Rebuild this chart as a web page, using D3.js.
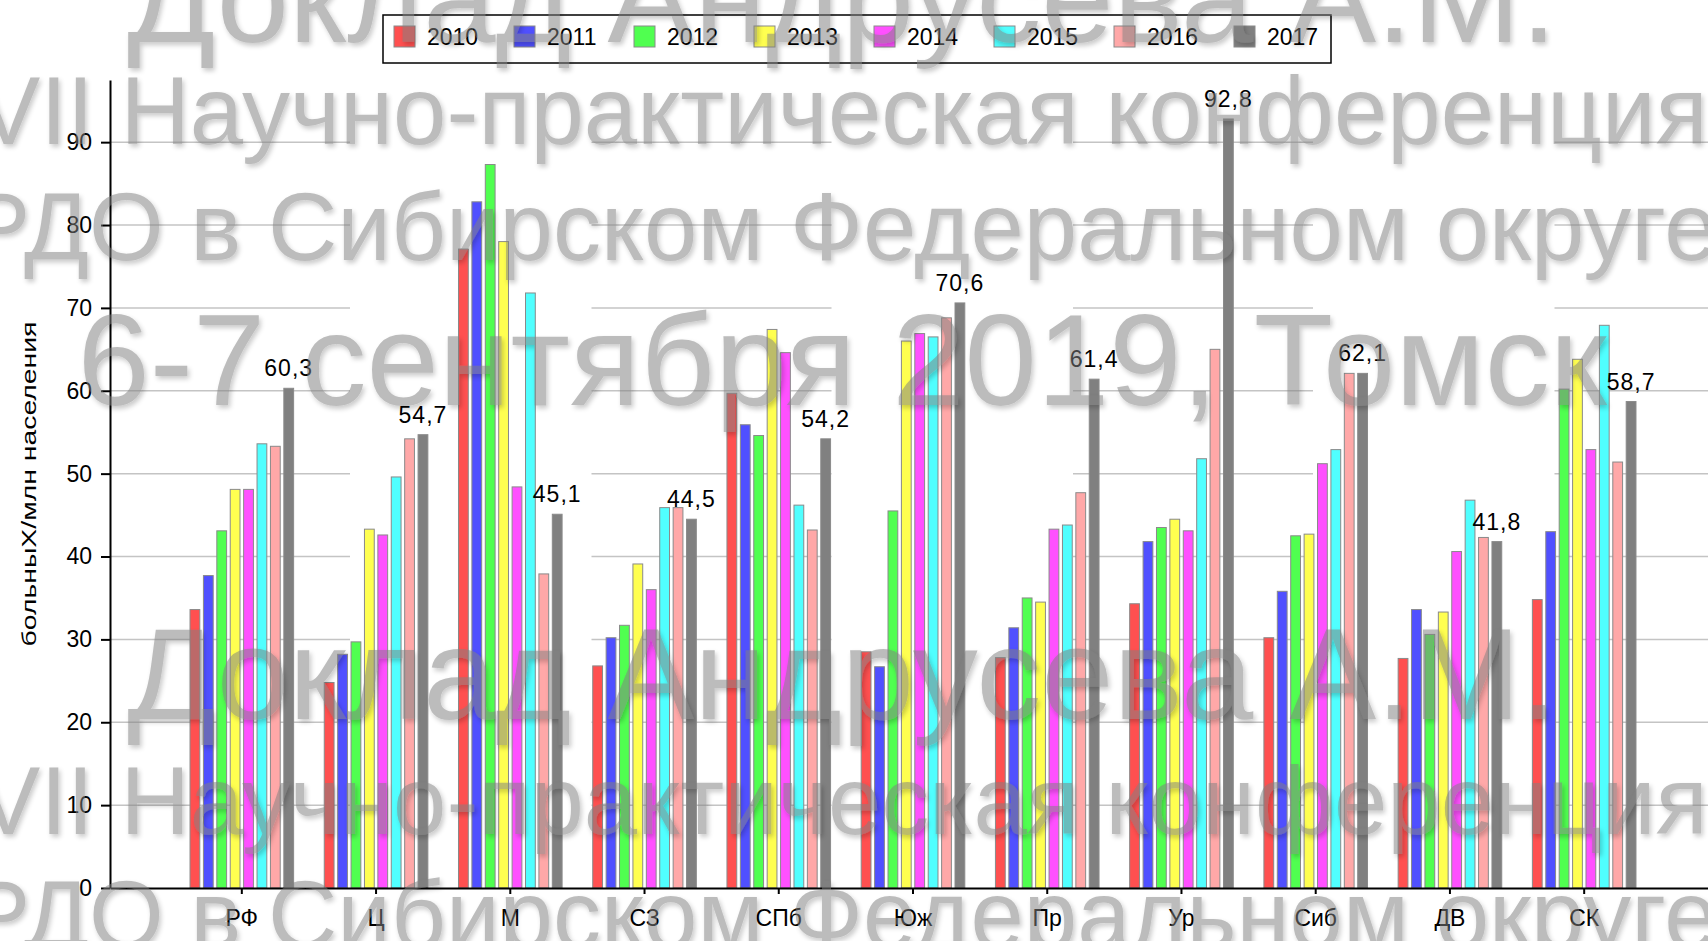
<!DOCTYPE html>
<html>
<head>
<meta charset="utf-8">
<script src="https://cdn.jsdelivr.net/npm/d3@7"></script>
<style>
  body { margin: 0; background: #fff; }
  text { font-family: "Liberation Sans", Arial, sans-serif; }
</style>
</head>
<body>
<svg id="chart" width="1708" height="941"></svg>
<script>
// regions of RF (federal districts)
const regions = ["РФ", "Ц", "М", "СЗ", "СПб", "Юж", "Пр", "Ур", "Сиб", "ДВ", "СК"];
const years = ["2010", "2011", "2012", "2013", "2014", "2015", "2016", "2017"];

const v2010 = [33.6, 24.8, 77.1, 26.8, 59.7, 28.5, 27.8, 34.3, 30.2, 27.7, 34.8];
const v2011 = [37.7, 28.2, 82.8, 30.2, 55.9, 26.7, 31.4, 41.8, 35.8, 33.6, 43.0];
const v2012 = [43.1, 29.7, 87.3, 31.7, 54.6, 45.5, 35.0, 43.5, 42.5, 30.6, 60.2];
const v2013 = [48.1, 43.3, 78.0, 39.1, 67.4, 66.0, 34.5, 44.5, 42.7, 33.3, 63.8];
const v2014 = [48.1, 42.6, 48.4, 36.0, 64.6, 66.9, 43.3, 43.1, 51.2, 40.6, 52.9];
const v2015 = [53.6, 49.6, 71.8, 45.9, 46.2, 66.5, 43.8, 51.8, 52.9, 46.8, 67.9];
const v2016 = [53.3, 54.2, 37.9, 45.9, 43.2, 68.8, 47.7, 65.0, 62.1, 42.3, 51.4];
const v2017 = [60.3, 54.7, 45.1, 44.5, 54.2, 70.6, 61.4, 92.8, 62.1, 41.8, 58.7];

const yTicks = [0, 10, 20, 30, 40, 50, 60, 70, 80, 90];
const colors = ["#ff5050", "#5050ff", "#50ff50", "#ffff50", "#ff50ff", "#50ffff", "#ffa8a8", "#808080"];

const series = [v2010, v2011, v2012, v2013, v2014, v2015, v2016, v2017];
const rows = regions.map((r, i) => ({ region: r, values: years.map((yr, k) => ({ year: yr, value: series[k][i] })) }));

const width = 1708, height = 941;
const svg = d3.select("#chart");

const x0 = d3.scaleBand().domain(regions).range([110, 1716]).paddingInner(0).paddingOuter(0.482);
const groupW = 103.6;
const x1 = d3.scaleBand().domain(years).range([0, groupW]).paddingInner(0.27);
const y = d3.scaleLinear().domain([0, 97.5]).range([888, 80]);
const color = d3.scaleOrdinal().domain(years).range(colors);

// grid lines, only visible in alternate stripes like the source picture
const stripe = 240, period = 481.5;
const grid = svg.append("g").attr("stroke", "#c4c4c4").attr("stroke-width", 1.5);
yTicks.slice(1).forEach(t => {
  for (let k = 0; k < 4; k++) {
    const xs = 110 + k * period;
    grid.append("line")
      .attr("x1", xs).attr("x2", Math.min(xs + stripe, width))
      .attr("y1", y(t)).attr("y2", y(t));
  }
});

// bars
const groups = svg.append("g").selectAll("g")
  .data(rows)
  .enter().append("g")
  .attr("transform", d => "translate(" + (x0(d.region) + (x0.bandwidth() - groupW) / 2) + ",0)");

groups.selectAll("rect")
  .data(d => d.values)
  .enter().append("rect")
  .attr("x", d => x1(d.year))
  .attr("y", d => y(d.value))
  .attr("width", x1.bandwidth())
  .attr("height", d => y(0) - y(d.value))
  .attr("fill", d => color(d.year))
  .attr("stroke", "#8a8a8a")
  .attr("stroke-width", 1);

// value labels above 2017 bars
groups.append("text")
  .attr("x", x1("2017") + x1.bandwidth() / 2)
  .attr("y", d => y(d.values[7].value) - 12)
  .attr("text-anchor", "middle")
  .attr("font-size", 23)
  .attr("letter-spacing", 1)
  .attr("fill", "#000")
  .text(d => d3.format(".1f")(d.values[7].value).replace(".", ","));

// axes
const yAxis = svg.append("g")
  .attr("transform", "translate(110,0)")
  .call(d3.axisLeft(y).tickValues(yTicks).tickSize(9).tickSizeOuter(0).tickPadding(9));
yAxis.selectAll("text").attr("font-size", 23).attr("fill", "#000");
yAxis.selectAll("line, path").attr("stroke", "#000").attr("stroke-width", 2);
yAxis.attr("font-family", null);

const xAxis = svg.append("g")
  .attr("transform", "translate(0," + y(0) + ")")
  .call(d3.axisBottom(x0).tickSize(6).tickSizeOuter(0).tickPadding(16));
xAxis.selectAll("text").attr("font-size", 23).attr("fill", "#000");
xAxis.selectAll("line, path").attr("stroke", "#000").attr("stroke-width", 2);
xAxis.attr("font-family", null);

svg.append("text")
  .attr("transform", "translate(36,484) rotate(-90)")
  .attr("text-anchor", "middle")
  .attr("font-size", 21)
  .attr("textLength", 325)
  .attr("lengthAdjust", "spacingAndGlyphs")
  .attr("fill", "#000")
  .text("больныХ/млн населения");

// legend
const legend = svg.append("g");
legend.append("rect")
  .attr("x", 383).attr("y", 15).attr("width", 948).attr("height", 48)
  .attr("fill", "#fff").attr("stroke", "#000").attr("stroke-width", 1.5);
const item = legend.selectAll("g.item")
  .data(years)
  .enter().append("g")
  .attr("class", "item")
  .attr("transform", (d, i) => "translate(" + (394 + i * 120) + ",26)");
item.append("rect")
  .attr("width", 21).attr("height", 21)
  .attr("fill", d => color(d))
  .attr("stroke", "#8a8a8a");
item.append("text")
  .attr("x", 33).attr("y", 19)
  .attr("font-size", 23)
  .attr("fill", "#000")
  .text(d => d);

// watermark on top
const defs = svg.append("defs");
const f = defs.append("filter").attr("id", "wm")
  .attr("x", "-5%").attr("y", "-30%").attr("width", "110%").attr("height", "160%");
f.append("feGaussianBlur").attr("in", "SourceAlpha").attr("stdDeviation", 2.5).attr("result", "b");
f.append("feOffset").attr("in", "b").attr("dx", 2).attr("dy", 3).attr("result", "o");
f.append("feComponentTransfer").attr("in", "o").attr("result", "s")
  .append("feFuncA").attr("type", "linear").attr("slope", 0.4);
const mg = f.append("feMerge");
mg.append("feMergeNode").attr("in", "s");
mg.append("feMergeNode").attr("in", "SourceGraphic");

const wmLines = [
  ["Доклад Андрусева А.М.", 130, 42],
  ["VII Научно-практическая конференция", 96, 144],
  ["РДО в Сибирском Федеральном округе", 96, 260],
  ["6-7 сентября 2019, Томск", 130, 405],
  ["Доклад Андрусева А.М.", 130, 719],
  ["VII Научно-практическая конференция", 96, 834],
  ["РДО в Сибирском Федеральном округе", 96, 948]
];
svg.append("g")
  .attr("opacity", 0.52)
  .attr("filter", "url(#wm)")
  .selectAll("text")
  .data(wmLines)
  .enter().append("text")
  .attr("x", 842)
  .attr("y", d => d[2])
  .attr("text-anchor", "middle")
  .attr("font-size", d => d[1])
  .attr("fill", "#808080")
  .text(d => d[0]);
</script>
</body>
</html>
